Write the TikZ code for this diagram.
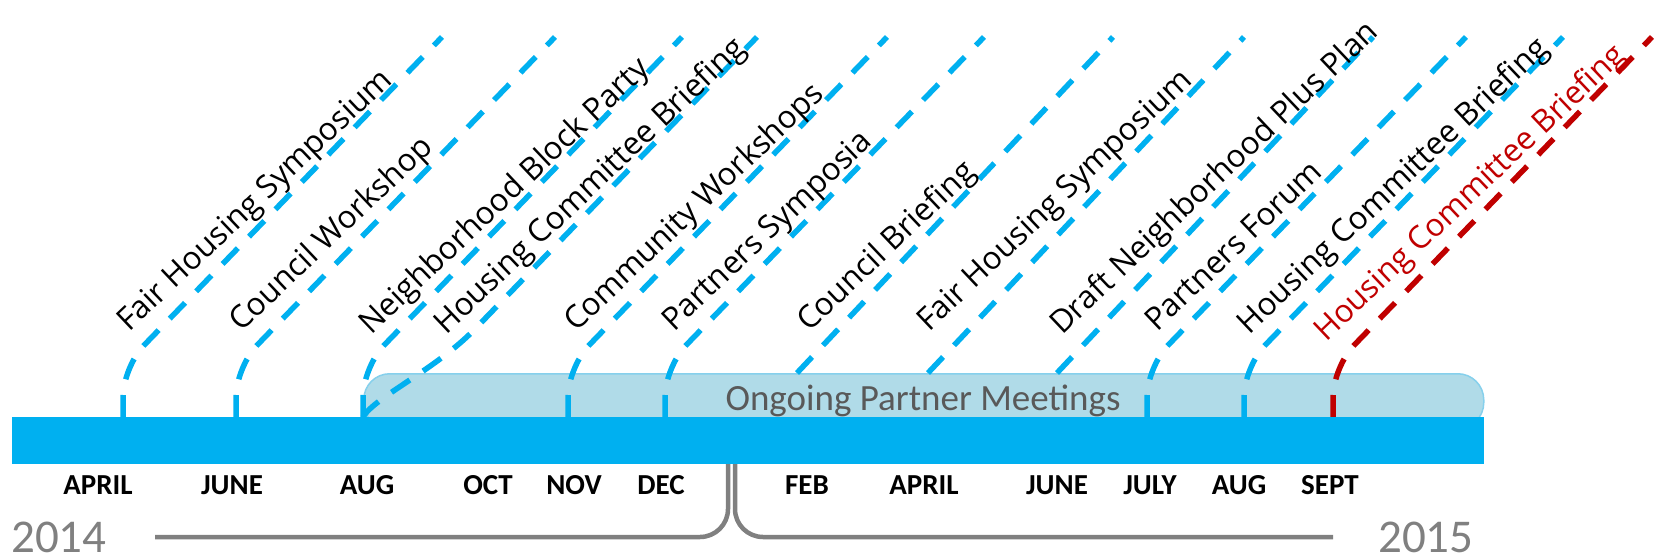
\documentclass[tikz,border=0pt]{standalone}
\usepackage{fontspec}
\setmainfont{Carlito}
\newfontfamily\lblfont{Open Sans}
\definecolor{barblue}{HTML}{00B0F0}
\definecolor{boxfill}{HTML}{B0DBE8}
\definecolor{boxline}{HTML}{86D0EC}
\definecolor{darkred}{HTML}{C00000}
\definecolor{txtgray}{HTML}{595959}
\definecolor{yeargray}{HTML}{808080}
\begin{document}
\begin{tikzpicture}[x=1pt,y=-1pt,
  evline/.style={draw=barblue, line width=5.5pt, dash pattern=on 22pt off 16pt, rounded corners=30pt},
  evcurve/.style={draw=barblue, line width=5.5pt, dash pattern=on 22pt off 16pt},
  redline/.style={evline, draw=darkred},
  evlabel/.style={font=\lblfont\fontsize{31.5}{31.5}\selectfont, anchor=base west, inner sep=0pt, rotate=43.5},
  month/.style={font=\bfseries\fontsize{29}{29}\selectfont, anchor=base, inner sep=0pt},
  year/.style={font=\fontsize{47}{47}\selectfont, text=yeargray, inner sep=0pt, anchor=base west},
  bracket/.style={draw=yeargray, line width=4.5pt, rounded corners=28pt}]
\useasboundingbox (0,0) rectangle (1663,559);

% ongoing partner meetings box
\node (box) [fill=boxfill, draw=boxline, line width=1.5pt, rounded corners=26pt,
  minimum width=1120pt, minimum height=55pt, inner sep=0pt, anchor=north west] at (363,373) {};
\node (ongoing) [anchor=base, text=txtgray, inner sep=0pt, font=\fontsize{37}{37}\selectfont] at (923,410) {Ongoing Partner Meetings};

% coordinates of event lines
\foreach \n/\b in {1/123, 2/236, 3/363, 5/568, 6/665, 10/1147, 11/1244, 12/1333} {
  \coordinate (b\n) at (\b,417);
  \coordinate (c\n) at (\b,367);
  \coordinate (t\n) at (\b+319,37);
}
\foreach \n/\s in {7/797, 8/928, 9/1057} {
  \coordinate (b\n) at (\s,373);
  \coordinate (t\n) at (\s+316,37);
}
\coordinate (b4) at (363,417);
\coordinate (m4) at (475,329);
\coordinate (t4) at (757,37);

\foreach \n in {1,2,3,5,6,10,11} { \draw[evline] (b\n) -- (c\n) -- (t\n); }
\draw[redline] (b12) -- (c12) -- (t12);
\foreach \n in {7,8,9} { \draw[evcurve] (b\n) -- (t\n); }
\draw[evcurve] (b4) .. controls (375,397) and (435,370) .. (m4) -- (t4);

% timeline bar
\node (bar) [fill=barblue, minimum width=1472pt, minimum height=47pt, inner sep=0pt, anchor=north west] at (12,417) {};

% event labels
\node (l1) [evlabel] at (129,333) {Fair Housing Symposium};
\node (l2) [evlabel] at (241,333) {Council Workshop};
\node (l3) [evlabel] at (371,336) {Neighborhood Block Party};
\node (l4) [evlabel] at (446,336) {Housing Committee Briefing};
\node (l5) [evlabel] at (576,333) {Community Workshops};
\node (l6) [evlabel] at (674,333) {Partners Symposia};
\node (l7) [evlabel] at (809,333) {Council Briefing};
\node (l8) [evlabel] at (929,333) {Fair Housing Symposium};
\node (l9) [evlabel] at (1062,336) {Draft Neighborhood Plus Plan};
\node (l10) [evlabel] at (1157,333) {Partners Forum};
\node (l11) [evlabel] at (1249,336) {Housing Committee Briefing};
\node (l12) [evlabel, text=darkred] at (1326,343) {Housing Committee Briefing};

% months
\foreach \n/\x/\m in {1/98/APRIL, 2/232/JUNE, 3/367/AUG, 4/488/OCT, 5/574/NOV, 6/661/DEC,
  7/807/FEB, 8/924/APRIL, 9/1057/JUNE, 10/1150/JULY, 11/1239/AUG, 12/1330/SEPT} {
  \node (mo\n) [month] at (\x,494) {\m};
}

% years and bracket
\node (y14) [year] at (11,552) {2014};
\node (y15) [year] at (1378,552) {2015};
\coordinate (bl0) at (155,537);
\coordinate (bl1) at (728,537);
\coordinate (bl2) at (728,464);
\coordinate (br0) at (735,464);
\coordinate (br1) at (735,537);
\coordinate (br2) at (1333,537);
\draw[bracket] (bl0) -- (bl1) -- (bl2);
\draw[bracket] (br0) -- (br1) -- (br2);
\end{tikzpicture}
\end{document}
